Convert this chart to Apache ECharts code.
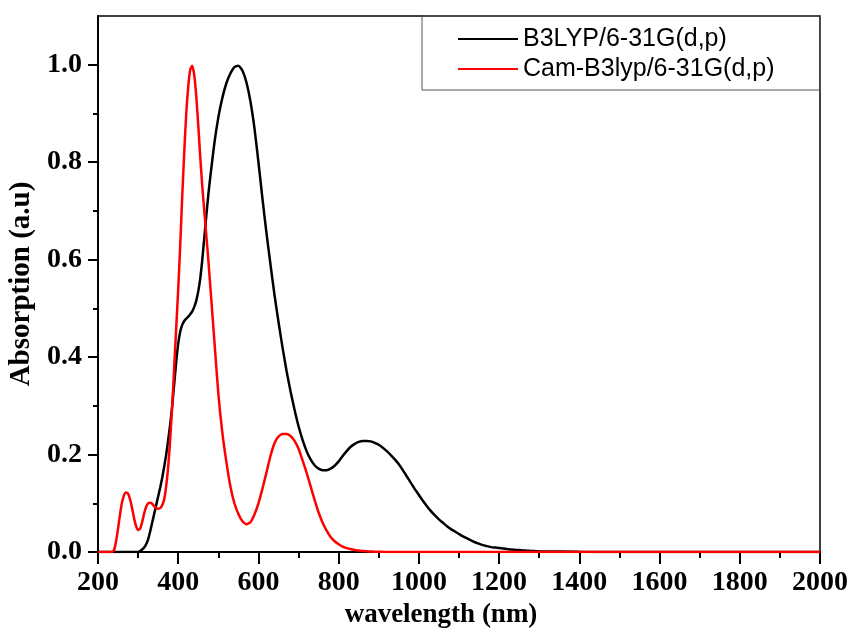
<!DOCTYPE html>
<html>
<head>
<meta charset="utf-8">
<title>Absorption</title>
<script src="https://cdn.jsdelivr.net/npm/echarts@6/dist/echarts.min.js"></script>
<style>
body{margin:0;background:#fff;}
#spectra{width:850px;height:634px;}
</style>
</head>
<body>
<div id="spectra"></div>
<script>
// wavelength (nm)
var wavelength = [
  200, 210, 220, 230,
  235, 240, 245, 250, 255, 260, 265, 270, 275, 280, 285, 290, 295, 300, 305, 310,
  315, 320, 325, 330, 335, 340, 345, 350, 355, 360, 365, 370, 375, 380, 385, 390,
  395, 400, 405, 410, 415, 420, 425, 430, 435, 440, 445, 450, 455, 460, 465, 470,
  475, 480,
  490, 500, 510, 520, 530, 540, 550, 560, 570, 580, 590, 600, 610, 620, 630, 640,
  650, 660, 670, 680, 690, 700, 710, 720, 730, 740, 750, 760, 770, 780, 790, 800,
  810, 820, 830, 840, 850, 860, 870, 880, 890, 900, 910, 920, 930, 940, 950, 960,
  970, 980, 990, 1000, 1010, 1020, 1030, 1040, 1050, 1060, 1070, 1080, 1090, 1100,
  1110, 1120, 1130, 1140, 1150, 1160, 1170, 1180, 1190, 1200, 1210, 1220, 1230,
  1240, 1250, 1260, 1270, 1280, 1290, 1300,
  1400, 1500, 1600, 1700, 1800, 1900, 2000
];

var b3lyp = [
  0, 0, 0, 0,
  0, 0, 0, 0, 0, 0, 0, 0, 0, 0, 0, 0, 0, 0, 0.002, 0.005,
  0.009, 0.016, 0.026, 0.042, 0.06, 0.078, 0.096, 0.114, 0.132, 0.152, 0.175, 0.2, 0.23, 0.262, 0.3, 0.345,
  0.39, 0.428, 0.452, 0.466, 0.474, 0.479, 0.483, 0.488, 0.494, 0.503, 0.516, 0.535, 0.562, 0.6, 0.645, 0.69,
  0.733, 0.77,
  0.838, 0.892, 0.932, 0.962, 0.982, 0.995, 0.998, 0.988, 0.964, 0.925, 0.87, 0.8, 0.725, 0.655, 0.59, 0.528,
  0.472, 0.42, 0.372, 0.33, 0.292, 0.258, 0.23, 0.207, 0.19, 0.178, 0.171, 0.168, 0.168, 0.171, 0.177, 0.186,
  0.197, 0.207, 0.216, 0.222, 0.226, 0.228, 0.228, 0.227, 0.224, 0.22, 0.214, 0.207, 0.199, 0.19, 0.18, 0.168,
  0.155, 0.142, 0.129, 0.117, 0.105, 0.094, 0.084, 0.075, 0.067, 0.06, 0.053, 0.047, 0.042, 0.037,
  0.032, 0.028, 0.024, 0.02, 0.017, 0.014, 0.012, 0.01, 0.009, 0.008, 0.007, 0.006, 0.005,
  0.0045, 0.004, 0.0033, 0.0027, 0.0022, 0.0018, 0.0015,
  0.0003, 0, 0, 0, 0, 0, 0
];

var camB3lyp = [
  0, 0, 0, 0,
  0, 0.004, 0.022, 0.048, 0.078, 0.102, 0.117, 0.122, 0.12, 0.108, 0.09, 0.069, 0.053, 0.045, 0.048, 0.061,
  0.079, 0.093, 0.1, 0.101, 0.099, 0.094, 0.09, 0.089, 0.09, 0.096, 0.108, 0.135, 0.175, 0.232, 0.3, 0.38,
  0.46, 0.54, 0.63, 0.73, 0.82, 0.9, 0.955, 0.99, 0.998, 0.978, 0.935, 0.875, 0.81, 0.75, 0.7, 0.65,
  0.6, 0.545,
  0.435, 0.325, 0.245, 0.185, 0.135, 0.1, 0.078, 0.063, 0.057, 0.061, 0.077, 0.1, 0.13, 0.163, 0.197, 0.223,
  0.237, 0.242, 0.242, 0.238, 0.228, 0.212, 0.188, 0.163, 0.135, 0.107, 0.081, 0.06, 0.044, 0.031, 0.022, 0.016,
  0.011, 0.008, 0.006, 0.004, 0.003, 0.002, 0.0015, 0.001, 0.0007, 0.0005, 0.0003, 0.0002, 0.0001, 0, 0, 0,
  0, 0, 0, 0, 0, 0, 0, 0, 0, 0, 0, 0, 0, 0,
  0, 0, 0, 0, 0, 0, 0, 0, 0, 0, 0, 0, 0,
  0, 0, 0, 0, 0, 0, 0,
  0, 0, 0, 0, 0, 0, 0
];

var seriesNames = ['B3LYP/6-31G(d,p)', 'Cam-B3lyp/6-31G(d,p)'];
var yMajorTicks = [0, 0.2, 0.4, 0.6, 0.8, 1.0];
var yMinorTicks = [0.1, 0.3, 0.5, 0.7, 0.9];

function pairs(vals) {
  var out = [];
  for (var i = 0; i < wavelength.length; i++) {
    out.push([wavelength[i], vals[i]]);
  }
  return out;
}

var serif = "'Liberation Serif', 'Times New Roman', serif";
var labelFont = {color: '#000', fontFamily: serif, fontWeight: 'bold', fontSize: 28};

var myChart = echarts.init(document.getElementById('spectra'), null, {renderer: 'canvas'});
myChart.setOption({
  animation: false,
  grid: {
    left: 98, right: 30, top: 16, bottom: 82,
    outerBoundsMode: 'none',
    show: true, borderColor: '#000', borderWidth: 1.5, backgroundColor: 'transparent'
  },
  legend: {
    orient: 'vertical',
    left: 422, top: 16,
    padding: [8, 46, 6, 36],
    itemGap: 0,
    icon: 'rect',
    itemWidth: 60,
    itemHeight: 2,
    borderColor: '#555',
    borderWidth: 1,
    textStyle: {color: '#000', fontFamily: "'Liberation Sans', Arial, sans-serif", fontSize: 25, lineHeight: 30},
    data: seriesNames
  },
  xAxis: {
    type: 'value',
    min: 200, max: 2000, interval: 200,
    name: 'wavelength (nm)',
    nameLocation: 'middle',
    nameGap: 49,
    nameTextStyle: {color: '#000', fontFamily: serif, fontWeight: 'bold', fontSize: 27, padding: [0, 36, 0, 0]},
    axisLine: {onZero: false, lineStyle: {color: '#000', width: 2}},
    axisTick: {inside: false, length: 12, lineStyle: {color: '#000', width: 2}},
    minorTick: {show: true, splitNumber: 2, length: 6, lineStyle: {color: '#000', width: 2}},
    axisLabel: Object.assign({
      margin: 17,
      formatter: function (v) { return String(v); }
    }, labelFont),
    splitLine: {show: false}
  },
  yAxis: [{
    type: 'value',
    min: 0, max: 1.1,
    position: 'left',
    name: 'Absorption (a.u)',
    nameLocation: 'middle',
    nameGap: 49,
    nameTextStyle: {color: '#000', fontFamily: serif, fontWeight: 'bold', fontSize: 29},
    axisLine: {show: true, onZero: false, lineStyle: {color: '#000', width: 2}},
    axisTick: {show: true, inside: false, length: 10, customValues: yMajorTicks, lineStyle: {color: '#000', width: 2}},
    axisLabel: Object.assign({
      margin: 16,
      customValues: yMajorTicks,
      formatter: function (v) { return v.toFixed(1); }
    }, labelFont),
    splitLine: {show: false}
  }, {
    // short ticks between the labelled ones
    type: 'value',
    min: 0, max: 1.1,
    position: 'left',
    axisLine: {show: false},
    axisTick: {show: true, inside: false, length: 5, customValues: yMinorTicks, lineStyle: {color: '#000', width: 2}},
    axisLabel: {show: false},
    splitLine: {show: false}
  }],
  series: [{
    name: seriesNames[0],
    type: 'line',
    data: pairs(b3lyp),
    showSymbol: false,
    symbol: 'none',
    smooth: 0.2,
    color: '#000',
    lineStyle: {color: '#000', width: 2.5}
  }, {
    name: seriesNames[1],
    type: 'line',
    data: pairs(camB3lyp),
    showSymbol: false,
    symbol: 'none',
    smooth: 0.2,
    color: '#ff0000',
    lineStyle: {color: '#ff0000', width: 2.5}
  }]
});
</script>
</body>
</html>
